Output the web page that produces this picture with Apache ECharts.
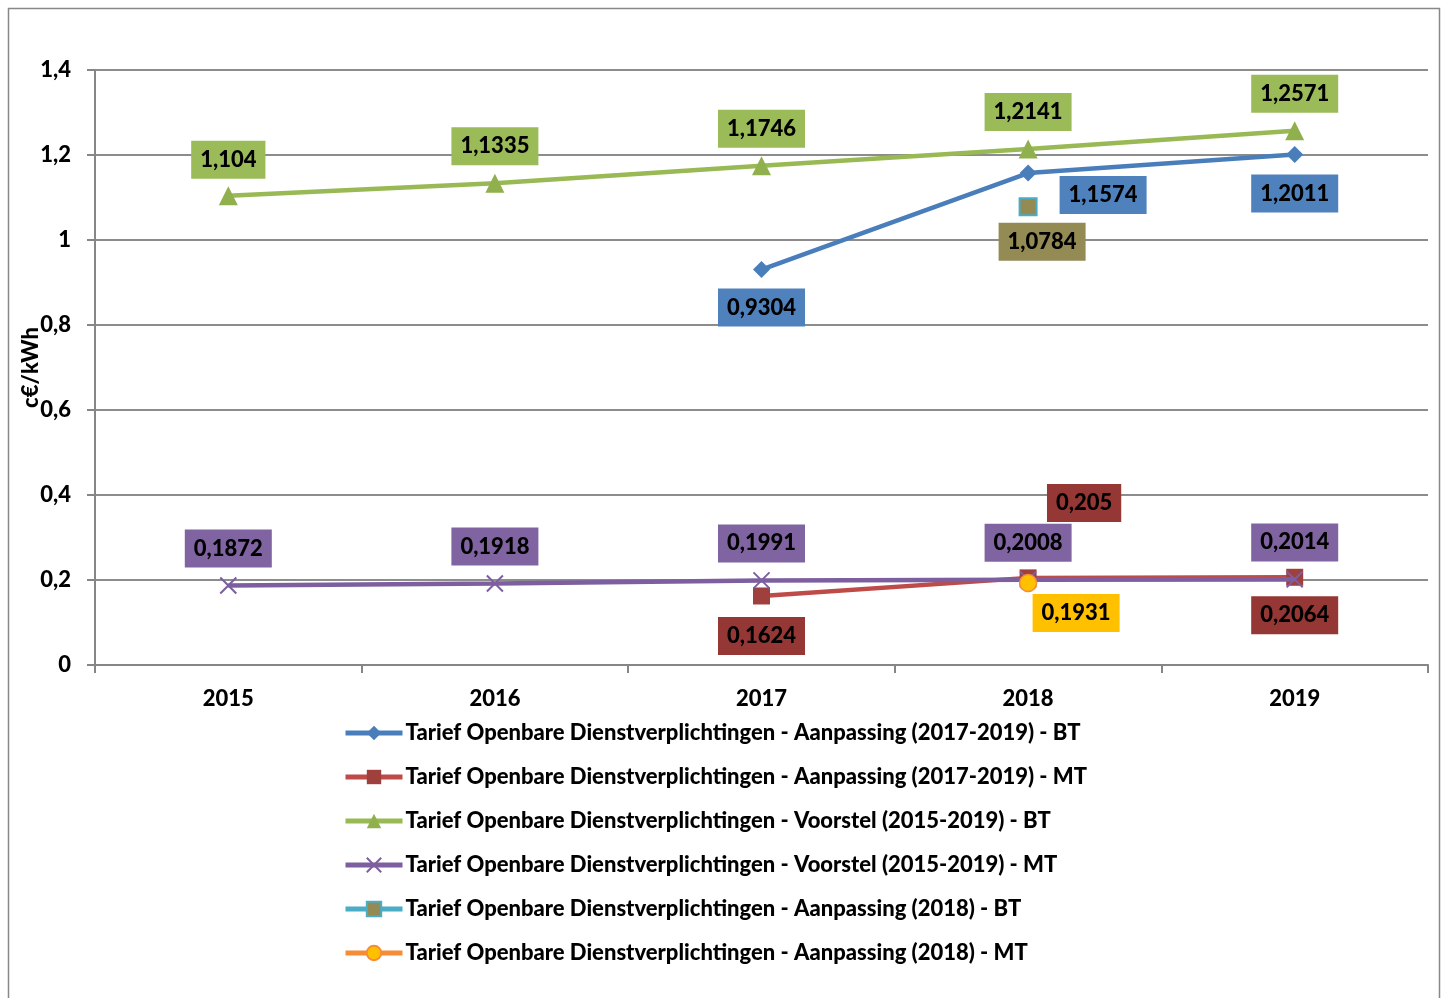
<!DOCTYPE html>
<html><head><meta charset="utf-8">
<script src="https://cdn.jsdelivr.net/npm/echarts@6/dist/echarts.min.js"></script>
<style>html,body{margin:0;padding:0;background:#fff;}#c{width:1447px;height:998px;}</style>
</head><body><div id="c"></div>
<script>
const years = ['2015','2016','2017','2018','2019'];
const seriesNames = [
  'Tarief Openbare Dienstverplichtingen - Aanpassing (2017-2019) - BT',
  'Tarief Openbare Dienstverplichtingen - Aanpassing (2017-2019) - MT',
  'Tarief Openbare Dienstverplichtingen - Voorstel (2015-2019) - BT',
  'Tarief Openbare Dienstverplichtingen - Voorstel (2015-2019) - MT',
  'Tarief Openbare Dienstverplichtingen - Aanpassing (2018) - BT',
  'Tarief Openbare Dienstverplichtingen - Aanpassing (2018) - MT'
];
const aanpassingBT = [null, null, 0.9304, 1.1574, 1.2011];
const aanpassingMT = [null, null, 0.1624, 0.205, 0.2064];
const voorstelBT = [1.104, 1.1335, 1.1746, 1.2141, 1.2571];
const voorstelMT = [0.1872, 0.1918, 0.1991, 0.2008, 0.2014];
const aanpassing2018BT = [null, null, null, 1.0784, null];
const aanpassing2018MT = [null, null, null, 0.1931, null];
const yTicks = [0, 0.2, 0.4, 0.6, 0.8, 1, 1.2, 1.4];

const FONT = 'Lato';
const FW = 900;
const fmt = v => String(v).replace('.', ',');

function mk(values, offsets, bg) {
  return values.map((v, i) => {
    if (v === null) return null;
    const o = offsets[i] || [0, -30];
    return {
      value: v,
      label: {
        show: true, position: 'inside', offset: o,
        formatter: p => fmt(p.value),
        backgroundColor: bg, color: '#000', fontFamily: FONT, fontWeight: FW,
        fontSize: 22, padding: [9, 9, 7, 9]
      }
    };
  });
}

const lineW = 4.5;
const chart = echarts.init(document.getElementById('c'), null, {renderer: 'canvas'});
chart.setOption({
  animation: false,
  textStyle: {fontFamily: FONT},
  graphic: [{type: 'rect', shape: {x: 8.5, y: 8.5, width: 1431, height: 1000}, style: {fill: 'none', stroke: '#888', lineWidth: 1.5}, z: -1}],
  grid: {left: 95, right: 19, top: 70, bottom: 333, containLabel: false},
  legend: {
    orient: 'vertical', left: 338, top: 717, itemWidth: 57, itemHeight: 18, itemGap: 22,
    lineStyle: {width: 5},
    textStyle: {fontFamily: FONT, fontWeight: FW, fontSize: 22, color: '#000', padding: [0, 0, 0, -2]},
    data: seriesNames
  },
  xAxis: {
    type: 'category', data: years, boundaryGap: true,
    axisLine: {lineStyle: {color: '#868686', width: 2}},
    axisTick: {show: true, length: 8, inside: false, lineStyle: {color: '#868686', width: 2}},
    axisLabel: {margin: 23, color: '#000', fontFamily: FONT, fontWeight: FW, fontSize: 22}
  },
  yAxis: {
    type: 'value', min: 0, max: 1.4, interval: 0.2,
    name: 'c€/kWh', nameLocation: 'middle', nameGap: 53, nameRotate: 90, nameMoveOverlap: false,
    nameTextStyle: {color: '#000', fontFamily: FONT, fontWeight: FW, fontSize: 22},
    axisLine: {show: true, lineStyle: {color: '#868686', width: 2}},
    axisTick: {show: true, length: 8, lineStyle: {color: '#868686', width: 2}},
    splitLine: {lineStyle: {color: '#8c8c8c', width: 2}},
    axisLabel: {margin: 24, color: '#000', fontFamily: FONT, fontWeight: FW, fontSize: 22,
      formatter: v => fmt(Math.round(v * 10) / 10)}
  },
  series: [
    {name: seriesNames[0], type: 'line', connectNulls: false,
     data: mk(aanpassingBT, [null, null, [0, 38], [75, 22], [0, 39]], '#4F81BD'),
     symbol: 'diamond', symbolSize: 17,
     lineStyle: {color: '#4A7EBB', width: lineW}, itemStyle: {color: '#4A7EBB'}, z: 4},
    {name: seriesNames[1], type: 'line',
     data: mk(aanpassingMT, [null, null, [0, 40], [56, -75], [0, 38]], '#953735'),
     symbol: 'rect', symbolSize: 17,
     lineStyle: {color: '#BE4B48', width: lineW}, itemStyle: {color: '#A0403D'}, z: 3},
    {name: seriesNames[2], type: 'line',
     data: mk(voorstelBT, [[0, -36], [0, -37], [0, -37], [0, -37], [0, -37]], '#9BBB59'),
     symbol: 'triangle', symbolSize: 19,
     lineStyle: {color: '#98B954', width: lineW}, itemStyle: {color: '#8FB04D'}, z: 3},
    {name: seriesNames[3], type: 'line',
     data: mk(voorstelMT, [[0, -37], [0, -37], [0, -37], [0, -37], [0, -37]], '#8064A2'),
     symbol: 'path://M0,0 L10,10 M10,0 L0,10', symbolSize: 16,
     lineStyle: {color: '#7D5FA0', width: lineW},
     itemStyle: {color: '#7D5FA0', borderColor: '#7D5FA0', borderWidth: 2}, z: 5},
    {name: seriesNames[4], type: 'line',
     data: mk(aanpassing2018BT, [null, null, null, [14, 35]], '#948A54'),
     symbol: 'rect', symbolSize: 17,
     lineStyle: {color: '#4BACC6', width: lineW},
     itemStyle: {color: '#948A54', borderColor: '#4BACC6', borderWidth: 2}, z: 4},
    {name: seriesNames[5], type: 'line',
     data: mk(aanpassing2018MT, [null, null, null, [48, 30]], '#FFC000'),
     symbol: 'circle', symbolSize: 17,
     lineStyle: {color: '#F68C36', width: lineW},
     itemStyle: {color: '#FFC000', borderColor: '#F68C36', borderWidth: 1.5}, z: 6}
  ]
});
</script></body></html>
